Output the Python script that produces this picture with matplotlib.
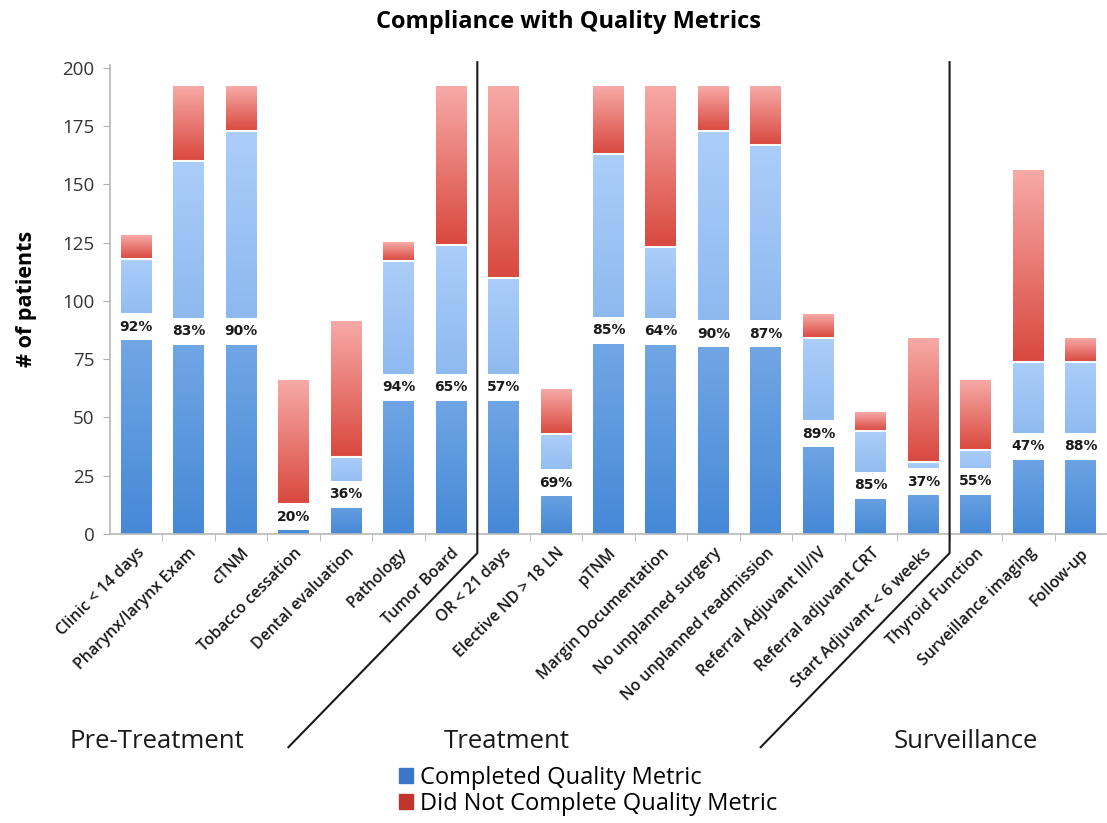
import numpy as np
import matplotlib
matplotlib.use("Agg")
import matplotlib.pyplot as plt
from matplotlib.colors import LinearSegmentedColormap
from matplotlib.patches import Rectangle
from matplotlib.lines import Line2D

plt.rcParams["font.family"] = ["Open Sans", "DejaVu Sans"]

# data
categories = [
    "Clinic < 14 days", "Pharynx/larynx Exam", "cTNM", "Tobacco cessation",
    "Dental evaluation", "Pathology", "Tumor Board", "OR < 21 days",
    "Elective ND > 18 LN", "pTNM", "Margin Documentation",
    "No unplanned surgery", "No unplanned readmission",
    "Referral Adjuvant III/IV", "Referral adjuvant CRT",
    "Start Adjuvant < 6 weeks", "Thyroid Function", "Surveillance imaging",
    "Follow-up",
]
total = [128, 192, 192, 66, 91, 125, 192, 192, 62, 192, 192, 192, 192, 94, 52, 84, 66, 156, 84]
completed = [118, 160, 173, 13, 33, 117, 124, 110, 43, 163, 123, 173, 167, 84, 44, 31, 36, 74, 74]
pct = [92, 83, 90, 20, 36, 94, 65, 57, 69, 85, 64, 90, 87, 89, 85, 37, 55, 47, 88]
pct_label_y = [89, 87, 87, 7.5, 17, 63, 63, 63, 22, 87.5, 87, 86, 86, 43, 21, 22.5, 22.7, 37.7, 37.7]
groups = ["Pre-Treatment", "Treatment", "Surveillance"]
group_breaks = [6.5, 15.5]

dark_blue = LinearSegmentedColormap.from_list("db", ["#4689d6", "#74a8e6"])
light_blue = LinearSegmentedColormap.from_list("lb", ["#8bb8ee", "#abcdfa"])
reds = LinearSegmentedColormap.from_list("rd", ["#d9493f", "#f7a9a6"])
grad = np.linspace(0, 1, 64).reshape(-1, 1)

fig = plt.figure(figsize=(11.07, 8.23), dpi=100)
ax = fig.add_axes([110 / 1107, 1 - 534 / 823, 1 - 110 / 1107, (534 - 64.5) / 823])

w = 0.59
box_h = 11.6


def gbar(x, y0, y1, cmap):
    if y1 <= y0:
        return
    ax.imshow(grad, extent=(x - w / 2, x + w / 2, y0, y1), origin="lower",
              cmap=cmap, aspect="auto", zorder=2, interpolation="bilinear")


for i in range(len(categories)):
    gbar(i, 0, pct_label_y[i], dark_blue)
    gbar(i, pct_label_y[i], completed[i], light_blue)
    gbar(i, completed[i], total[i], reds)
    # thin white gap between the two stacks
    ax.plot([i - w / 2, i + w / 2], [completed[i], completed[i]], color="white", lw=1.5, zorder=3)
    ax.add_patch(Rectangle((i - w / 2 - 0.01, pct_label_y[i] - box_h / 2), w + 0.02, box_h,
                           facecolor="white", edgecolor="none", zorder=4))
    ax.text(i, pct_label_y[i], f"{pct[i]}%", ha="center", va="center", fontsize=10,
            fontweight="bold", color="#1a1a1a", zorder=5, family="DejaVu Sans")

ax.set_xlim(-0.5, 18.35)
ax.set_ylim(0, 201.5)
ax.set_yticks(np.arange(0, 201, 25))
ax.set_xticks(range(len(categories)))
ax.set_xticklabels(categories, rotation=45, ha="right", rotation_mode="anchor",
                   fontsize=11.5, fontweight="semibold", color="#1a1a1a")
ax.set_xticks(np.arange(0.5, len(categories), 1), minor=True)
ax.tick_params(axis="x", which="major", length=0, pad=8)
ax.tick_params(axis="x", which="minor", length=5, color="#b0b0b0", direction="out")
ax.tick_params(axis="y", length=5, color="#b0b0b0", labelsize=13.5, labelcolor="#333333", pad=6)
for s in ["top", "right"]:
    ax.spines[s].set_visible(False)
for s in ["left", "bottom"]:
    ax.spines[s].set_color("#b8b8b8")
    ax.spines[s].set_linewidth(1.2)

ax.set_ylabel("# of patients", fontsize=15.5, fontweight="bold", labelpad=18)
fig.text(568 / 1107, 1 - 22 / 823, "Compliance with Quality Metrics", ha="center", va="center",
         fontsize=17, fontweight="bold")

# group dividers: vertical line, then a diagonal below the tick labels
for xb in group_breaks:
    ax.add_line(Line2D([xb, xb, xb - 3.6], [202.5, -8.2, -91.5], color="#1a1a1a", lw=1.5,
                       clip_on=False, zorder=6))

for gx, g in zip([157, 507, 966], groups):
    fig.text(gx / 1107, 1 - 742 / 823, g, ha="center", va="center", fontsize=18.5, color="#1a1a1a")

handles = [Rectangle((0, 0), 1, 1, color="#3a77c4"), Rectangle((0, 0), 1, 1, color="#c0352c")]
fig.legend(handles, ["Completed Quality Metric", "Did Not Complete Quality Metric"],
           loc="center", bbox_to_anchor=(588 / 1107, 1 - 791 / 823), frameon=False,
           fontsize=17, handlelength=0.6, handleheight=0.6, handletextpad=0.3,
           labelspacing=0.1, borderpad=0)

fig.savefig("out.png", dpi=100)
